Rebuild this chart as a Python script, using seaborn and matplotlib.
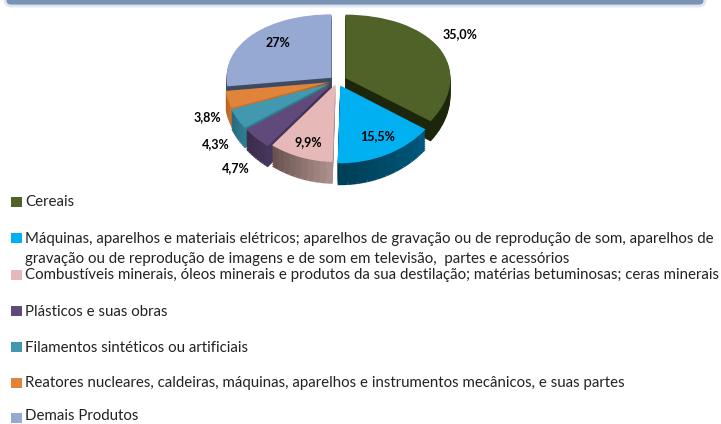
import numpy as np
import matplotlib as mpl
mpl.use('Agg')
from matplotlib import pyplot as plt
from matplotlib.patches import FancyBboxPatch
from matplotlib.colors import to_rgb
import seaborn as sb

sb.set_theme(style="white")
plt.rcParams['font.family'] = ['Lato', 'DejaVu Sans']

categories = ["Cereais",
              "Máquinas, aparelhos e materiais elétricos; aparelhos de gravação ou de reprodução de som, aparelhos de\ngravação ou de reprodução de imagens e de som em televisão,  partes e acessórios",
              "Combustíveis minerais, óleos minerais e produtos da sua destilação; matérias betuminosas; ceras minerais",
              "Plásticos e suas obras",
              "Filamentos sintéticos ou artificiais",
              "Reatores nucleares, caldeiras, máquinas, aparelhos e instrumentos mecânicos, e suas partes",
              "Demais Produtos"]
values = [35.0, 15.5, 9.9, 4.7, 4.3, 3.8, 27]
value_labels = ["35,0%", "15,5%", "9,9%", "4,7%", "4,3%", "3,8%", "27%"]

colors = ["#4f6228", "#00b0f0", "#e6b9b8", "#604a7b", "#4198af", "#e0843c", "#95a9d3"]
side_start = ["#1f2a0c", "#00587a", "#ab8f8b", "#46355c", "#2f7d93", "#c8722c", "#3d4a62"]
side_end = ["#1c260a", "#003f58", "#6b5450", "#3a2c4c", "#296a7e", "#b5651d", "#3d4a62"]

explode = [0.09, 0.07, 0.05, 0.08, 0.08, 0.07, 0.07]
label_px = [(460, 34), (378, 136), (308, 142), (236, 168), (216, 144), (207, 117), (278, 43)]
legend_px = [202, 238, 275, 311, 347, 383, 418]

W, H = 721, 424
cx, cy = 337, 81      # pie centre in pixels
rx = 105
depth = 18
ry, persp = 70.5, 6.5  # back of the pie is flatter than the front


def fwd(y):
    return ry * y - persp * y ** 2


def inv(p):
    return (ry - np.sqrt(np.maximum(ry ** 2 - 4 * persp * p, 0))) / (2 * persp)


def wedge_centres(dy):
    frac = np.array(values) / sum(values)
    mids = np.pi / 2 - 2 * np.pi * (np.cumsum(frac) - frac / 2)
    return [(e * np.cos(m), e * np.sin(m) - dy) for e, m in zip(explode, mids)]


fig = plt.figure(figsize=(W / 100, H / 100), dpi=100)
ax = fig.add_axes([0, 0, 1, 1])

# extruded side, each slice cut in small parts to get the gradient
nsub = 10
sub_vals = np.repeat(np.array(values) / nsub, nsub)
sub_cols = []
for a, b in zip(side_start, side_end):
    for t in np.linspace(0, 1, nsub):
        sub_cols.append(tuple((1 - t) * np.array(to_rgb(a)) + t * np.array(to_rgb(b))))

for d in np.arange(depth, 0, -1.5):
    dy = d / ry
    wedges, _ = ax.pie(sub_vals, startangle=90, counterclock=False, colors=sub_cols,
                       wedgeprops=dict(linewidth=0.3, edgecolor="none"))
    cents = wedge_centres(dy)
    for i, w in enumerate(wedges):
        w.set_center(cents[i // nsub])

tops, _ = ax.pie(values, startangle=90, counterclock=False, colors=colors,
                 wedgeprops=dict(linewidth=0))
for w, c in zip(tops, wedge_centres(0)):
    w.set_center(c)

ax.set_aspect('auto')
ax.set_yscale('function', functions=(fwd, inv))
ax.set_xlim((0 - cx) / rx, (W - cx) / rx)
ax.set_ylim(inv(cy - H), inv(cy))
ax.axis('off')

# pixel axes on top for banner, labels and legend
ov = fig.add_axes([0, 0, 1, 1], facecolor="none")
ov.set_xlim(0, W)
ov.set_ylim(H, 0)
ov.axis('off')

ov.add_patch(FancyBboxPatch((5, -30), 700, 36, boxstyle="round,pad=0,rounding_size=6",
                            fc="#7a93b5", ec="#dfe6ef", lw=2))

for (x, y), t in zip(label_px, value_labels):
    ov.text(x, y, t, ha="center", va="center", fontsize=9, fontweight="bold", color="black")

ov.scatter([16.5] * len(colors), legend_px, marker="s", s=52, c=colors, linewidths=0)
for y, t in zip(legend_px, categories):
    if "\n" in t:
        a, b = t.split("\n")
        ov.text(25, y + 0.5, a, va="center", fontsize=10.85, color="#222222")
        ov.text(25, y + 21.5, b, va="center", fontsize=10.85, color="#222222")
    elif t == categories[-1]:
        ov.text(25, y - 1.5, t, va="center", fontsize=10.85, color="#222222")
    else:
        ov.text(25, y + 0.5, t, va="center", fontsize=10.85, color="#222222")

fig.savefig('out.png', dpi=100)
